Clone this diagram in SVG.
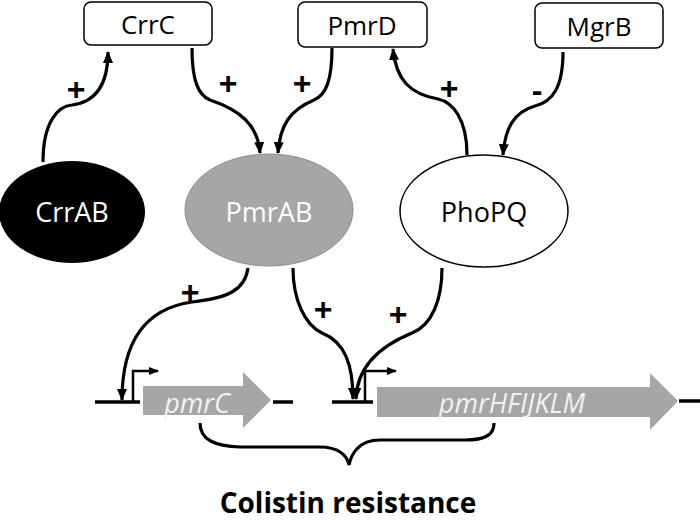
<svg xmlns="http://www.w3.org/2000/svg" width="700" height="522" viewBox="0 0 700 522">
<defs>
<marker id="ah" viewBox="0 0 12 10" refX="11" refY="5" markerWidth="12" markerHeight="10" markerUnits="userSpaceOnUse" orient="auto">
<path d="M0,0 L12,5 L0,10 z" fill="#000"/>
</marker>
<marker id="ahs" viewBox="0 0 10 8" refX="9" refY="4" markerWidth="10" markerHeight="8" markerUnits="userSpaceOnUse" orient="auto">
<path d="M0,0 L10,4 L0,8 z" fill="#000"/>
</marker>
</defs>
<style>
.box{fill:#fff;stroke:#000;stroke-width:1.5}
.lbl{font-family:"Open Sans","Noto Sans",sans-serif;font-size:26px;text-anchor:middle}
.ell{font-family:"Open Sans","Noto Sans",sans-serif;font-size:27px;text-anchor:middle}
.sign{font-family:"Liberation Sans",sans-serif;font-weight:bold;font-size:32px;text-anchor:middle}
.con{fill:none;stroke:#000;stroke-width:3.2;marker-end:url(#ah)}
.gene{font-family:"Open Sans","Noto Sans",sans-serif;font-style:italic;font-size:27px;text-anchor:middle;fill:#f2f2f2}
.dna{stroke:#000;stroke-width:3.5}
</style>
<rect width="700" height="522" fill="#fff"/>
<g id="CrrC"><rect class="box" x="84" y="2" width="128" height="43" rx="7"/><text class="lbl" x="148" y="34">CrrC</text></g>
<g id="PmrD"><rect class="box" x="298" y="2" width="129" height="45" rx="7"/><text class="lbl" x="362" y="35">PmrD</text></g>
<g id="MgrB"><rect class="box" x="535" y="3" width="128" height="45" rx="7"/><text class="lbl" x="599" y="36">MgrB</text></g>
<g id="CrrAB"><ellipse cx="72" cy="212" rx="73" ry="51" fill="#000"/><text class="ell" x="72" y="222" fill="#fff">CrrAB</text></g>
<g id="PmrAB"><ellipse cx="269" cy="210" rx="84" ry="56" fill="#a6a6a6" stroke="#8c8c8c" stroke-width="1"/><text class="ell" x="269" y="222" fill="#fff">PmrAB</text></g>
<g id="PhoPQ"><ellipse cx="484" cy="211" rx="84" ry="56" fill="#fff" stroke="#000" stroke-width="1.5"/><text class="ell" x="484" y="222">PhoPQ</text></g>
<g id="pmrC">
<line class="dna" x1="95" y1="402" x2="140" y2="402"/>
<polyline points="133,402 133,371 158,371" fill="none" stroke="#000" stroke-width="2.5" marker-end="url(#ahs)"/>
<path d="M143,386 H243 V372 L271,400 L243,428 V415 H143 z" fill="#a6a6a6"/>
<text class="gene" x="197" y="413">pmrC</text>
<line class="dna" x1="273" y1="402" x2="293" y2="402"/>
</g>
<g id="pmrHFIJKLM">
<line class="dna" x1="332" y1="402" x2="373" y2="402"/>
<polyline points="365,402 365,371 396,371" fill="none" stroke="#000" stroke-width="2.5" marker-end="url(#ahs)"/>
<path d="M377,387 H650 V373 L678,401 L650,430 V417 H377 z" fill="#a6a6a6"/>
<text class="gene" x="512" y="413">pmrHFIJKLM</text>
<line class="dna" x1="679" y1="401" x2="700" y2="401"/>
</g>
<g id="connectors">
<path class="con" d="M43,162 C43,122 58,106 72,105 C96,102 108,84 108,52"/>
<path class="con" d="M192,48 C192,80 198,95 210,100 C240,110 258,125 260,153"/>
<path class="con" d="M332,48 C332,80 326,95 314,100 C290,110 280,125 278,153"/>
<path class="con" d="M467,155 C467,118 452,102 438,99 C410,94 396,80 393,49"/>
<path class="con" d="M563,52 C563,88 552,102 535,106 C514,112 505,128 503,155"/>
<path class="con" d="M248,268 C245,290 228,298 192,302 C150,308 122,335 122,400"/>
<path class="con" d="M293,268 C293,300 305,325 322,333 C345,342 353,365 353,399"/>
<path class="con" d="M442,268 C442,300 432,325 412,333 C390,342 357,360 356,399"/>
<path d="M200,423 C200,440 215,446 240,447 L320,447 C338,447 347,455 349,465 C351,455 358,440 380,440 L465,440 C485,440 494,435 494,423" fill="none" stroke="#000" stroke-width="3.2"/>
</g>
<g id="signs">
<text class="sign" x="76" y="100">+</text>
<text class="sign" x="228" y="94">+</text>
<text class="sign" x="302" y="94">+</text>
<text class="sign" x="449" y="99">+</text>
<text class="sign" x="537" y="101">-</text>
<text class="sign" x="190" y="303">+</text>
<text class="sign" x="323" y="320">+</text>
<text class="sign" x="398" y="325">+</text>
</g>
<text x="348" y="513" font-family="'Open Sans','Noto Sans',sans-serif" font-weight="bold" font-size="28" text-anchor="middle">Colistin resistance</text>
</svg>
